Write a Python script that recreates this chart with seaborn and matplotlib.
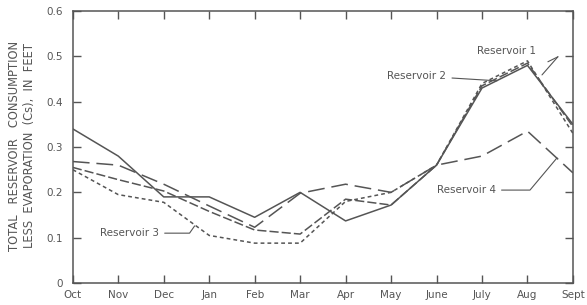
import pandas as pd
import matplotlib
matplotlib.use("Agg")
import matplotlib.pyplot as plt
import seaborn as sns

# ==========================================
# DATA
# ==========================================
months = ["Oct", "Nov", "Dec", "Jan", "Feb", "Mar", "Apr", "May",
          "June", "July", "Aug", "Sept"]
reservoir_1 = [0.34, 0.28, 0.19, 0.19, 0.145, 0.20, 0.137, 0.172, 0.26, 0.43, 0.48, 0.35]
reservoir_2 = [0.255, 0.228, 0.203, 0.158, 0.117, 0.108, 0.185, 0.172, 0.26, 0.435, 0.485, 0.345]
reservoir_3 = [0.25, 0.195, 0.178, 0.105, 0.088, 0.088, 0.18, 0.20, 0.26, 0.44, 0.49, 0.33]
reservoir_4 = [0.268, 0.26, 0.218, 0.17, 0.123, 0.198, 0.218, 0.20, 0.26, 0.28, 0.335, 0.243]
y_ticks = [0, 0.1, 0.2, 0.3, 0.4, 0.5, 0.6]
y_tick_labels = ["0", "0.1", "0.2", "0.3", "0.4", "0.5", "0.6"]

series = {
    "Reservoir 1": reservoir_1,
    "Reservoir 2": reservoir_2,
    "Reservoir 3": reservoir_3,
    "Reservoir 4": reservoir_4,
}

df = pd.concat(
    [pd.DataFrame({"month": range(len(months)), "value": v, "reservoir": k})
     for k, v in series.items()],
    ignore_index=True,
)

# ==========================================
# PLOT
# ==========================================
sns.set_style("ticks")
plt.rcParams["font.family"] = ["DejaVu Sans"]

INK = "#555555"
fig = plt.figure(figsize=(5.87, 3.05), dpi=100)
ax = fig.add_axes([0.124, 0.072, 0.852, 0.892])

dashes = {
    "Reservoir 1": "",
    "Reservoir 2": (6, 2),
    "Reservoir 3": (2.5, 2),
    "Reservoir 4": (11, 4.5),
}
sns.lineplot(data=df, x="month", y="value", hue="reservoir", style="reservoir",
             palette={k: INK for k in series}, dashes=dashes, linewidth=1.1,
             legend=False, ax=ax)

ax.set_xlim(0, len(months) - 1)
ax.set_ylim(0, 0.6)
ax.set_xticks(range(len(months)))
ax.set_xticklabels(months)
ax.set_yticks(y_ticks)
ax.set_yticklabels(y_tick_labels)
ax.tick_params(direction="in", length=6, width=1, colors=INK, labelsize=7.5,
               top=True, right=True)
ax.tick_params(axis="x", pad=5)
ax.tick_params(axis="y", pad=7)
for s in ax.spines.values():
    s.set_color(INK)
    s.set_linewidth(1.1)

ax.set_xlabel("")
ax.set_ylabel("")
fig.text(22 / 587, 1 - 146 / 305,
         "TOTAL   RESERVOIR   CONSUMPTION\nLESS  EVAPORATION  (Cs),  IN  FEET",
         rotation=90, ha="center", va="center", fontsize=8.3, color=INK,
         linespacing=1.15)

# Leader-line labels
lead = dict(arrowstyle="-", color=INK, lw=0.8, shrinkA=0, shrinkB=0)
ax.text(8.89, 0.512, "Reservoir 1", fontsize=7.5, color=INK, va="center")
ax.annotate("", xy=(10.67, 0.499), xytext=(10.45, 0.488), arrowprops=lead)
ax.annotate("", xy=(10.32, 0.459), xytext=(10.67, 0.499), arrowprops=lead)

ax.annotate("Reservoir 2", xy=(9.33, 0.446), xytext=(6.91, 0.457),
            fontsize=7.5, color=INK, va="center",
            arrowprops=dict(lead, shrinkA=2))
ax.annotate("Reservoir 3", xy=(2.68, 0.126), xytext=(0.59, 0.11),
            fontsize=7.5, color=INK, va="center",
            arrowprops=dict(lead, shrinkA=2,
                            connectionstyle="angle,angleA=0,angleB=55,rad=0"))
ax.annotate("Reservoir 4", xy=(10.65, 0.276), xytext=(8.0, 0.205),
            fontsize=7.5, color=INK, va="center",
            arrowprops=dict(lead, shrinkA=2,
                            connectionstyle="angle,angleA=0,angleB=50,rad=0"))

fig.savefig("out.png", dpi=100, facecolor="white")
